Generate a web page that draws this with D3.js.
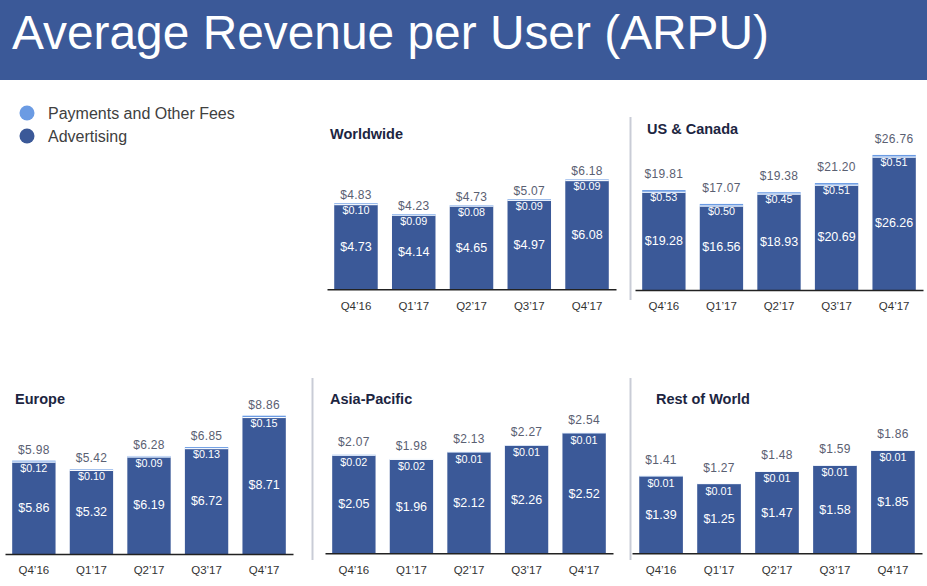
<!DOCTYPE html>
<html><head><meta charset="utf-8">
<script src="https://cdn.jsdelivr.net/npm/d3@7"></script>
<style>body{margin:0;background:#fff}svg{display:block;font-family:Arial,"Liberation Sans",sans-serif}</style>
</head><body><svg id="c" width="927" height="586"></svg>
<script>
// ---- data ----
const chartTitle = "Average Revenue per User (ARPU)";
const quarters = ["Q4’16","Q1’17","Q2’17","Q3’17","Q4’17"];
const seriesNames = ["Payments and Other Fees","Advertising"];
const regions = ["Worldwide","US & Canada","Europe","Asia-Pacific","Rest of World"];

const worldwideAdvertising = [4.73,4.14,4.65,4.97,6.08];
const worldwidePayments    = [0.10,0.09,0.08,0.09,0.09];
const worldwideTotal       = [4.83,4.23,4.73,5.07,6.18];

const usCanadaAdvertising = [19.28,16.56,18.93,20.69,26.26];
const usCanadaPayments    = [0.53,0.50,0.45,0.51,0.51];
const usCanadaTotal       = [19.81,17.07,19.38,21.20,26.76];

const europeAdvertising = [5.86,5.32,6.19,6.72,8.71];
const europePayments    = [0.12,0.10,0.09,0.13,0.15];
const europeTotal       = [5.98,5.42,6.28,6.85,8.86];

const asiaAdvertising = [2.05,1.96,2.12,2.26,2.52];
const asiaPayments    = [0.02,0.02,0.01,0.01,0.01];
const asiaTotal       = [2.07,1.98,2.13,2.27,2.54];

const rowAdvertising = [1.39,1.25,1.47,1.58,1.85];
const rowPayments    = [0.01,0.01,0.01,0.01,0.01];
const rowTotal       = [1.41,1.27,1.48,1.59,1.86];

const regionData = [
  [worldwideAdvertising, worldwidePayments, worldwideTotal],
  [usCanadaAdvertising, usCanadaPayments, usCanadaTotal],
  [europeAdvertising, europePayments, europeTotal],
  [asiaAdvertising, asiaPayments, asiaTotal],
  [rowAdvertising, rowPayments, rowTotal]
];

// ---- layout / style ----
const advColor = "#3b5998", payColor = "#6b9be3";
const layout = [
  {x0:327, x1:616, axisY:289.3, barH:110,   titleX:330, titleY:139,   gap:4,  sep:null},
  {x0:635, x1:923, axisY:290,   barH:135,   titleX:647, titleY:133.5, gap:12, sep:[630.5,117,300]},
  {x0:5,   x1:293, axisY:554,   barH:138.3, titleX:15,  titleY:404,   gap:7,  sep:null},
  {x0:325, x1:613, axisY:553.3, barH:121,   titleX:330, titleY:404,   gap:9,  sep:[312.5,378,560]},
  {x0:632, x1:922, axisY:553.3, barH:103,   titleX:656, titleY:404,   gap:12, sep:[630.5,378,560]}
];

const svg = d3.select("#c");

// header
svg.append("rect").attr("x",0).attr("y",0).attr("width",927).attr("height",80).attr("fill",advColor);
svg.append("text").attr("x",12).attr("y",49).attr("font-size",48).attr("fill","#fff")
  .attr("textLength",757).attr("lengthAdjust","spacingAndGlyphs").text(chartTitle);

// legend
const legendColors = [payColor, advColor];
seriesNames.forEach((s,i)=>{
  svg.append("circle").attr("cx",27).attr("cy",113+i*23).attr("r",7.5).attr("fill",legendColors[i]);
  svg.append("text").attr("x",48).attr("y",118.5+i*23).attr("font-size",16).attr("fill","#404040").text(s);
});

regions.forEach((name,ri)=>{
  const L = layout[ri];
  const [adv, pay, tot] = regionData[ri];
  const rows = quarters.map((q,i)=>({q, adv:adv[i], pay:pay[i], tot:tot[i]}));
  const x = d3.scaleBand().domain(quarters).range([L.x0, L.x1]).paddingInner(0.247).paddingOuter(0.125);
  const y = d3.scaleLinear().domain([0, d3.max(tot)]).range([L.axisY, L.axisY - L.barH]);
  const stack = d3.stack().keys(["adv","pay"])(rows);
  const g = svg.append("g");

  if (L.sep) {
    g.append("line").attr("x1",L.sep[0]).attr("x2",L.sep[0]).attr("y1",L.sep[1]).attr("y2",L.sep[2])
      .attr("stroke","#c9ccd6").attr("stroke-width",2);
  }
  g.append("text").attr("x",L.titleX).attr("y",L.titleY).attr("font-size",14.5).attr("font-weight","bold")
    .attr("fill","#1c2541").text(name);

  const colors = {adv:advColor, pay:payColor};
  stack.forEach(layer=>{
    g.selectAll(null).data(layer).join("rect")
      .attr("x",d=>x(d.data.q)).attr("width",x.bandwidth())
      .attr("y",d=>y(d[1])).attr("height",d=>y(d[0])-y(d[1]))
      .attr("fill",colors[layer.key]);
  });
  // white separator between segments
  g.selectAll(null).data(rows).join("line")
    .attr("x1",d=>x(d.q)).attr("x2",d=>x(d.q)+x.bandwidth())
    .attr("y1",d=>y(d.adv)-0.5).attr("y2",d=>y(d.adv)-0.5)
    .attr("stroke","#fff").attr("stroke-width",1);

  const cx = d=>x(d.q)+x.bandwidth()/2;
  const topOf = d=>y(d.adv+d.pay);
  g.selectAll(null).data(rows).join("text").attr("text-anchor","middle")
    .attr("x",cx).attr("y",d=>topOf(d)-L.gap).attr("font-size",12).attr("fill","#5a6072")
    .attr("letter-spacing",0.3)
    .text(d=>"$"+d.tot.toFixed(2));
  g.selectAll(null).data(rows).join("text").attr("text-anchor","middle")
    .attr("x",cx).attr("y",d=>topOf(d)+11).attr("font-size",10.8).attr("fill","#fff")
    .text(d=>"$"+d.pay.toFixed(2));
  g.selectAll(null).data(rows).join("text").attr("text-anchor","middle")
    .attr("x",cx).attr("y",d=>(topOf(d)+L.axisY)/2+4.5).attr("font-size",12.5).attr("fill","#fff")
    .text(d=>"$"+d.adv.toFixed(2));

  const ax = g.append("g").attr("transform",`translate(0,${L.axisY})`)
    .call(d3.axisBottom(x).tickSize(0).tickSizeOuter(0).tickPadding(12.3));
  ax.select(".domain").attr("stroke","#222").attr("stroke-width",1.5);
  ax.selectAll("text").attr("font-size",11.5).attr("fill","#333").attr("font-family","Arial, 'Liberation Sans', sans-serif");
});
</script></body></html>
